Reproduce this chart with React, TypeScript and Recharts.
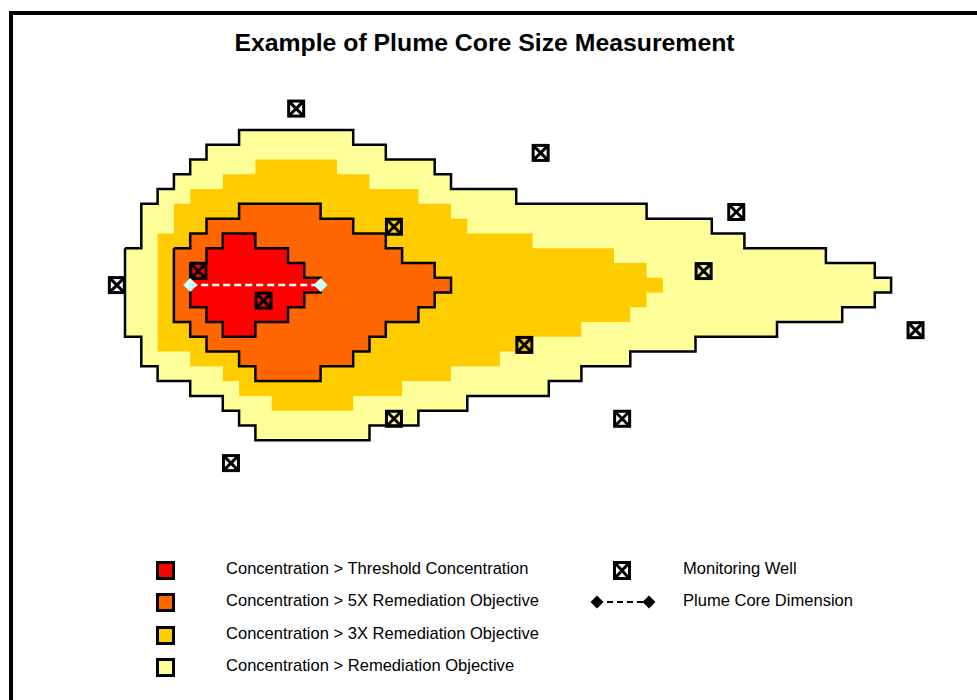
import { Area, ComposedChart, Scatter, XAxis, YAxis } from "recharts";

const FONT = '"Liberation Sans", Arial, sans-serif';

// plume cells, one entry per grid column: first wet row and last wet row
const remediationStart = 0;
const remediationTop = [8, 5, 4, 3, 2, 1, 1, 0, 0, 0, 0, 0, 0, 0, 1, 1, 2, 2, 2, 3, 4, 4, 4, 4, 5, 5, 5, 5, 5, 5, 5, 5, 6, 6, 6, 6, 7, 7, 8, 8, 8, 8, 8, 9, 9, 9, 10];
const remediationBottom = [14, 16, 17, 17, 18, 18, 19, 20, 21, 21, 21, 21, 21, 21, 21, 20, 20, 20, 19, 19, 19, 18, 18, 18, 18, 18, 17, 17, 16, 16, 16, 15, 15, 15, 15, 14, 14, 14, 14, 14, 13, 13, 13, 13, 12, 12, 11];

const threeXStart = 2;
const threeXTop = [7, 5, 4, 4, 3, 3, 2, 2, 2, 2, 2, 3, 3, 4, 4, 4, 5, 5, 6, 7, 7, 7, 7, 8, 8, 8, 8, 8, 9, 9, 10];
const threeXBottom = [15, 15, 16, 16, 17, 18, 18, 19, 19, 19, 19, 19, 18, 18, 18, 17, 17, 17, 16, 16, 16, 15, 15, 14, 14, 14, 13, 13, 13, 12, 11];

const fiveXStart = 3;
const fiveXTop = [8, 7, 6, 6, 5, 5, 5, 5, 5, 6, 6, 7, 7, 8, 9, 9, 10];
const fiveXBottom = [13, 14, 15, 15, 16, 17, 17, 17, 17, 16, 16, 15, 14, 13, 13, 12, 11];

const thresholdStart = 4;
const thresholdTop = [9, 8, 7, 7, 8, 8, 9, 10];
const thresholdBottom = [12, 13, 14, 14, 13, 13, 12, 11];

const wellCols = [10.5, 25.5, 37.5, 16.5, 4.5, -0.5, 35.5, 8.5, 24.5, 48.5, 30.5, 16.5, 6.5];
const wellRows = [-1.45, 1.55, 5.55, 6.55, 9.55, 10.5, 9.55, 11.55, 14.55, 13.55, 19.55, 19.55, 22.55];

const coreCols = [4, 12];
const coreRows = [10.5, 10.5];

const plumeLabels = [
  "Concentration > Threshold Concentration",
  "Concentration > 5X Remediation Objective",
  "Concentration > 3X Remediation Objective",
  "Concentration > Remediation Objective",
];
const plumeColors = ["#FF0000", "#FF6600", "#FFCC00", "#FFFF99"];

function buildBand(start: number, top: number[], bottom: number[]) {
  const rows = top.map((t, i) => ({ col: start + i, band: [t, bottom[i]] }));
  // step areas need a closing point at the right edge of the last column
  rows.push({ col: start + top.length, band: [top[top.length - 1], bottom[bottom.length - 1]] });
  return rows;
}

function buildOutline(start: number, top: number[], bottom: number[]) {
  const points: { col: number; row: number }[] = [];
  top.forEach((t, i) => {
    points.push({ col: start + i, row: t }, { col: start + i + 1, row: t });
  });
  for (let i = bottom.length - 1; i >= 0; i--) {
    points.push({ col: start + i + 1, row: bottom[i] }, { col: start + i, row: bottom[i] });
  }
  points.push({ col: start, row: top[0] });
  return points;
}

const wells = wellCols.map((col, i) => ({ col, row: wellRows[i] }));
const core = coreCols.map((col, i) => ({ col, row: coreRows[i] }));

function WellGlyph({ cx, cy }: { cx?: number; cy?: number }) {
  const x = cx ?? 0;
  const y = cy ?? 0;
  return (
    <g stroke="#000" fill="none">
      <rect x={x - 7.5} y={y - 7.5} width={15} height={15} strokeWidth={3} />
      <path d={`M${x - 6} ${y - 6}L${x + 6} ${y + 6}M${x + 6} ${y - 6}L${x - 6} ${y + 6}`} strokeWidth={3} />
    </g>
  );
}

function CoreDiamond({ cx, cy }: { cx?: number; cy?: number }) {
  const x = cx ?? 0;
  const y = cy ?? 0;
  return <path d={`M${x - 7} ${y}L${x} ${y - 7}L${x + 7} ${y}L${x} ${y + 7}Z`} fill="#CCFFFF" />;
}

const NoMark = () => <g />;

function legendText(left: number, top: number, label: string) {
  return (
    <div
      key={label}
      style={{ position: "absolute", left, top, fontFamily: FONT, fontSize: 16.55, lineHeight: "18px", color: "#000", whiteSpace: "nowrap" }}
    >
      {label}
    </div>
  );
}

export default function App() {
  return (
    <div style={{ position: "fixed", left: 0, top: 0, width: 977, height: 700, overflow: "hidden", background: "#fff" }}>
      <div style={{ position: "absolute", left: 9, top: 11, width: 1000, height: 720, borderTop: "4px solid #000", borderLeft: "4px solid #000" }} />
      <div style={{ position: "absolute", left: 0, top: 29, width: 969, textAlign: "center", fontFamily: FONT, fontWeight: 700, fontSize: 24.8, lineHeight: "28px", color: "#000" }}>
        Example of Plume Core Size Measurement
      </div>

      <div style={{ position: "absolute", left: 0, top: 0 }}>
        <ComposedChart width={977} height={700} margin={{ top: 0, right: 0, bottom: 0, left: 0 }}>
          <XAxis type="number" dataKey="col" domain={[-7.669, 52.27]} hide />
          <YAxis type="number" dataKey="row" domain={[-8.802, 38.59]} reversed hide />
          <Area data={buildBand(remediationStart, remediationTop, remediationBottom)} dataKey="band" type="stepAfter" fill="#FFFF99" fillOpacity={1} stroke="none" isAnimationActive={false} />
          <Area data={buildBand(threeXStart, threeXTop, threeXBottom)} dataKey="band" type="stepAfter" fill="#FFCC00" fillOpacity={1} stroke="none" isAnimationActive={false} />
          <Area data={buildBand(fiveXStart, fiveXTop, fiveXBottom)} dataKey="band" type="stepAfter" fill="#FF6600" fillOpacity={1} stroke="none" isAnimationActive={false} />
          <Area data={buildBand(thresholdStart, thresholdTop, thresholdBottom)} dataKey="band" type="stepAfter" fill="#FF0000" fillOpacity={1} stroke="none" isAnimationActive={false} />
          <Scatter data={buildOutline(remediationStart, remediationTop, remediationBottom)} line={{ stroke: "#000", strokeWidth: 2.5 }} shape={NoMark} isAnimationActive={false} />
          <Scatter data={buildOutline(fiveXStart, fiveXTop, fiveXBottom)} line={{ stroke: "#000", strokeWidth: 2.5 }} shape={NoMark} isAnimationActive={false} />
          <Scatter data={buildOutline(thresholdStart, thresholdTop, thresholdBottom)} line={{ stroke: "#000", strokeWidth: 2.5 }} shape={NoMark} isAnimationActive={false} />
          <Scatter data={wells} shape={WellGlyph} isAnimationActive={false} />
          <Scatter data={core} line={{ stroke: "#F0FFFF", strokeWidth: 2.5, strokeDasharray: "7 4" }} shape={CoreDiamond} isAnimationActive={false} />
        </ComposedChart>
      </div>

      {plumeLabels.map((label, i) => (
        <div key={label}>
          <div
            style={{
              position: "absolute",
              left: 156,
              top: [561, 593, 626, 658][i],
              width: 13,
              height: 13,
              border: "3px solid #000",
              background: plumeColors[i],
            }}
          />
          {legendText(226, [560, 592, 625, 657][i], label)}
        </div>
      ))}

      <svg style={{ position: "absolute", left: 580, top: 555 }} width={90} height={60}>
        <rect x={34.5} y={7.5} width={15} height={16} fill="none" stroke="#000" strokeWidth={3} />
        <path d="M36 9L48 22M48 9L36 22" fill="none" stroke="#000" strokeWidth={3} />
        <line x1={17} y1={47} x2={69} y2={47} stroke="#000" strokeWidth={2} strokeDasharray="6 4" />
        <path d="M10.5 47L17 40.5L23.5 47L17 53.5Z" fill="#000" />
        <path d="M62.5 47L69 40.5L75.5 47L69 53.5Z" fill="#000" />
      </svg>
      {legendText(683, 560, "Monitoring Well")}
      {legendText(683, 592, "Plume Core Dimension")}
    </div>
  );
}
